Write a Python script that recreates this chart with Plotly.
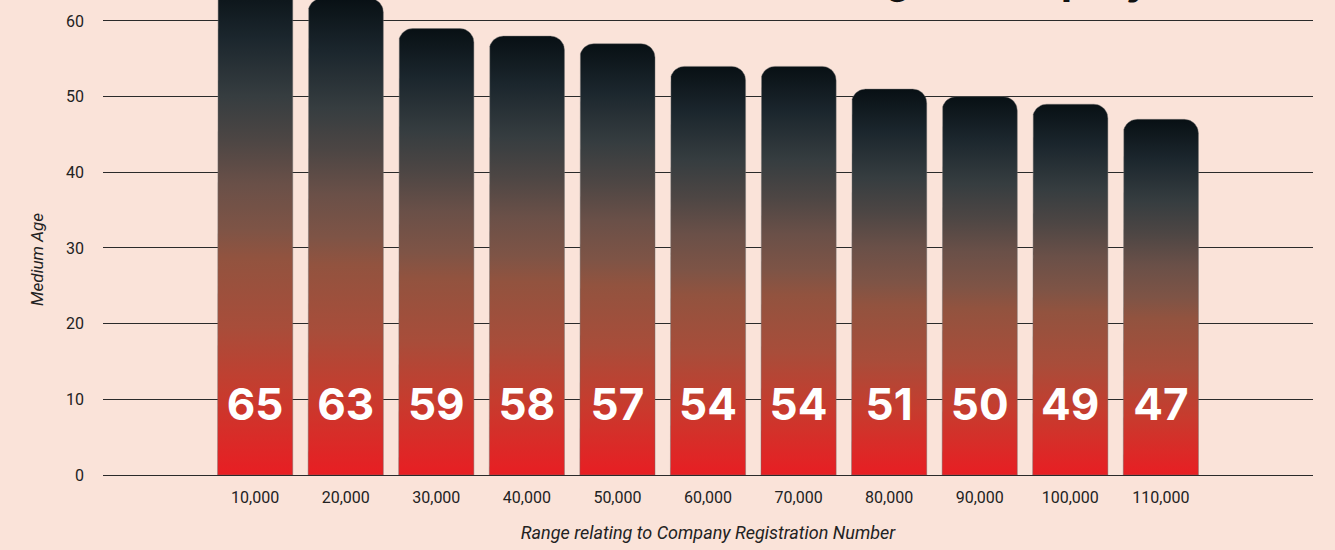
import numpy as np
import plotly.graph_objects as go

# ---- data ----
CATEGORIES = ["10,000", "20,000", "30,000", "40,000", "50,000", "60,000",
              "70,000", "80,000", "90,000", "100,000", "110,000"]
MEDIAN_AGE = [65, 63, 59, 58, 57, 54, 54, 51, 50, 49, 47]
Y_TICKS = [0, 10, 20, 30, 40, 50, 60]

TITLE = "Median Age of Company Directors"
X_TITLE = "Range relating to Company Registration Number"
Y_TITLE = "Medium Age"

# ---- style ----
BG = "#fae3d9"
GRID = "#2a2a2a"
BAR_HALF = 0.415
PX_PER_X = 90.57
PX_PER_Y = 7.567
RADIUS_PX = 14
LABEL_Y = 8.7
COLORSCALE = [
    [0.0, "#e81e23"],
    [0.17, "#c63c2e"],
    [0.30, "#a84d3a"],
    [0.44, "#92533f"],
    [0.50, "#7e5446"],
    [0.59, "#6a5048"],
    [0.68, "#4d4644"],
    [0.77, "#363d40"],
    [0.89, "#1b262d"],
    [1.0, "#081014"],
]

fig = go.Figure()

rx = RADIUS_PX / PX_PER_X
ry = RADIUS_PX / PX_PER_Y
t = np.linspace(0, np.pi / 2, 12)

for i, v in enumerate(MEDIAN_AGE):
    xl, xr = i - BAR_HALF, i + BAR_HALF
    lx = (xl + rx) - rx * np.cos(t)
    ly = (v - ry) + ry * np.sin(t)
    rxs = (xr - rx) + rx * np.sin(t)
    rys = (v - ry) + ry * np.cos(t)
    xs = [xl] + list(lx) + list(rxs) + [xr, xl]
    ys = [0] + list(ly) + list(rys) + [0, 0]
    fig.add_trace(go.Scatter(
        x=xs, y=ys, mode="lines", fill="toself",
        line=dict(width=0.8, color="rgba(110,110,110,0.55)"),
        fillgradient=dict(type="vertical", colorscale=COLORSCALE, start=0, stop=v),
        hoverinfo="skip", showlegend=False,
    ))

fig.add_trace(go.Scatter(
    x=list(range(len(CATEGORIES))), y=[LABEL_Y] * len(CATEGORIES),
    mode="text", text=[str(v) for v in MEDIAN_AGE],
    textfont=dict(family="Inter", size=44, color="white", weight=700),
    textposition="middle center", showlegend=False, hoverinfo="skip",
))

top = 475 / PX_PER_Y

fig.update_layout(
    width=1335, height=550,
    margin=dict(l=103, r=22, t=0, b=75),
    paper_bgcolor=BG, plot_bgcolor=BG,
    font=dict(family="Roboto", color="#222"),
    xaxis=dict(
        range=[-1.68, len(CATEGORIES) - 1 + 1.68],
        tickvals=list(range(len(CATEGORIES))), ticktext=CATEGORIES,
        showgrid=False, zeroline=False, showline=False,
        tickfont=dict(size=16, color="#222"),
        ticks="", ticklabelstandoff=11,
        title=dict(text=X_TITLE, font=dict(size=18, style="italic", color="#222"), standoff=20),
    ),
    yaxis=dict(
        range=[0, top], tickvals=Y_TICKS,
        showgrid=True, gridcolor=GRID, gridwidth=1,
        zeroline=True, zerolinecolor=GRID, zerolinewidth=1.2,
        showline=False, ticks="", ticklabelstandoff=18,
        tickfont=dict(size=16, color="#222"),
    ),
    annotations=[
        dict(text=Y_TITLE, textangle=-90, xref="paper", yref="y", x=-0.054, y=28.5,
             xanchor="center", yanchor="middle", showarrow=False,
             font=dict(size=17, style="italic", color="#222", family="Roboto")),
        dict(text=TITLE, xref="paper", yref="paper", x=0.5116, y=1, xanchor="left",
             yanchor="bottom", yshift=-5, showarrow=False,
             font=dict(size=35, weight=800, color="#111", family="Inter")),
    ],
)

fig.write_html("out.html")
